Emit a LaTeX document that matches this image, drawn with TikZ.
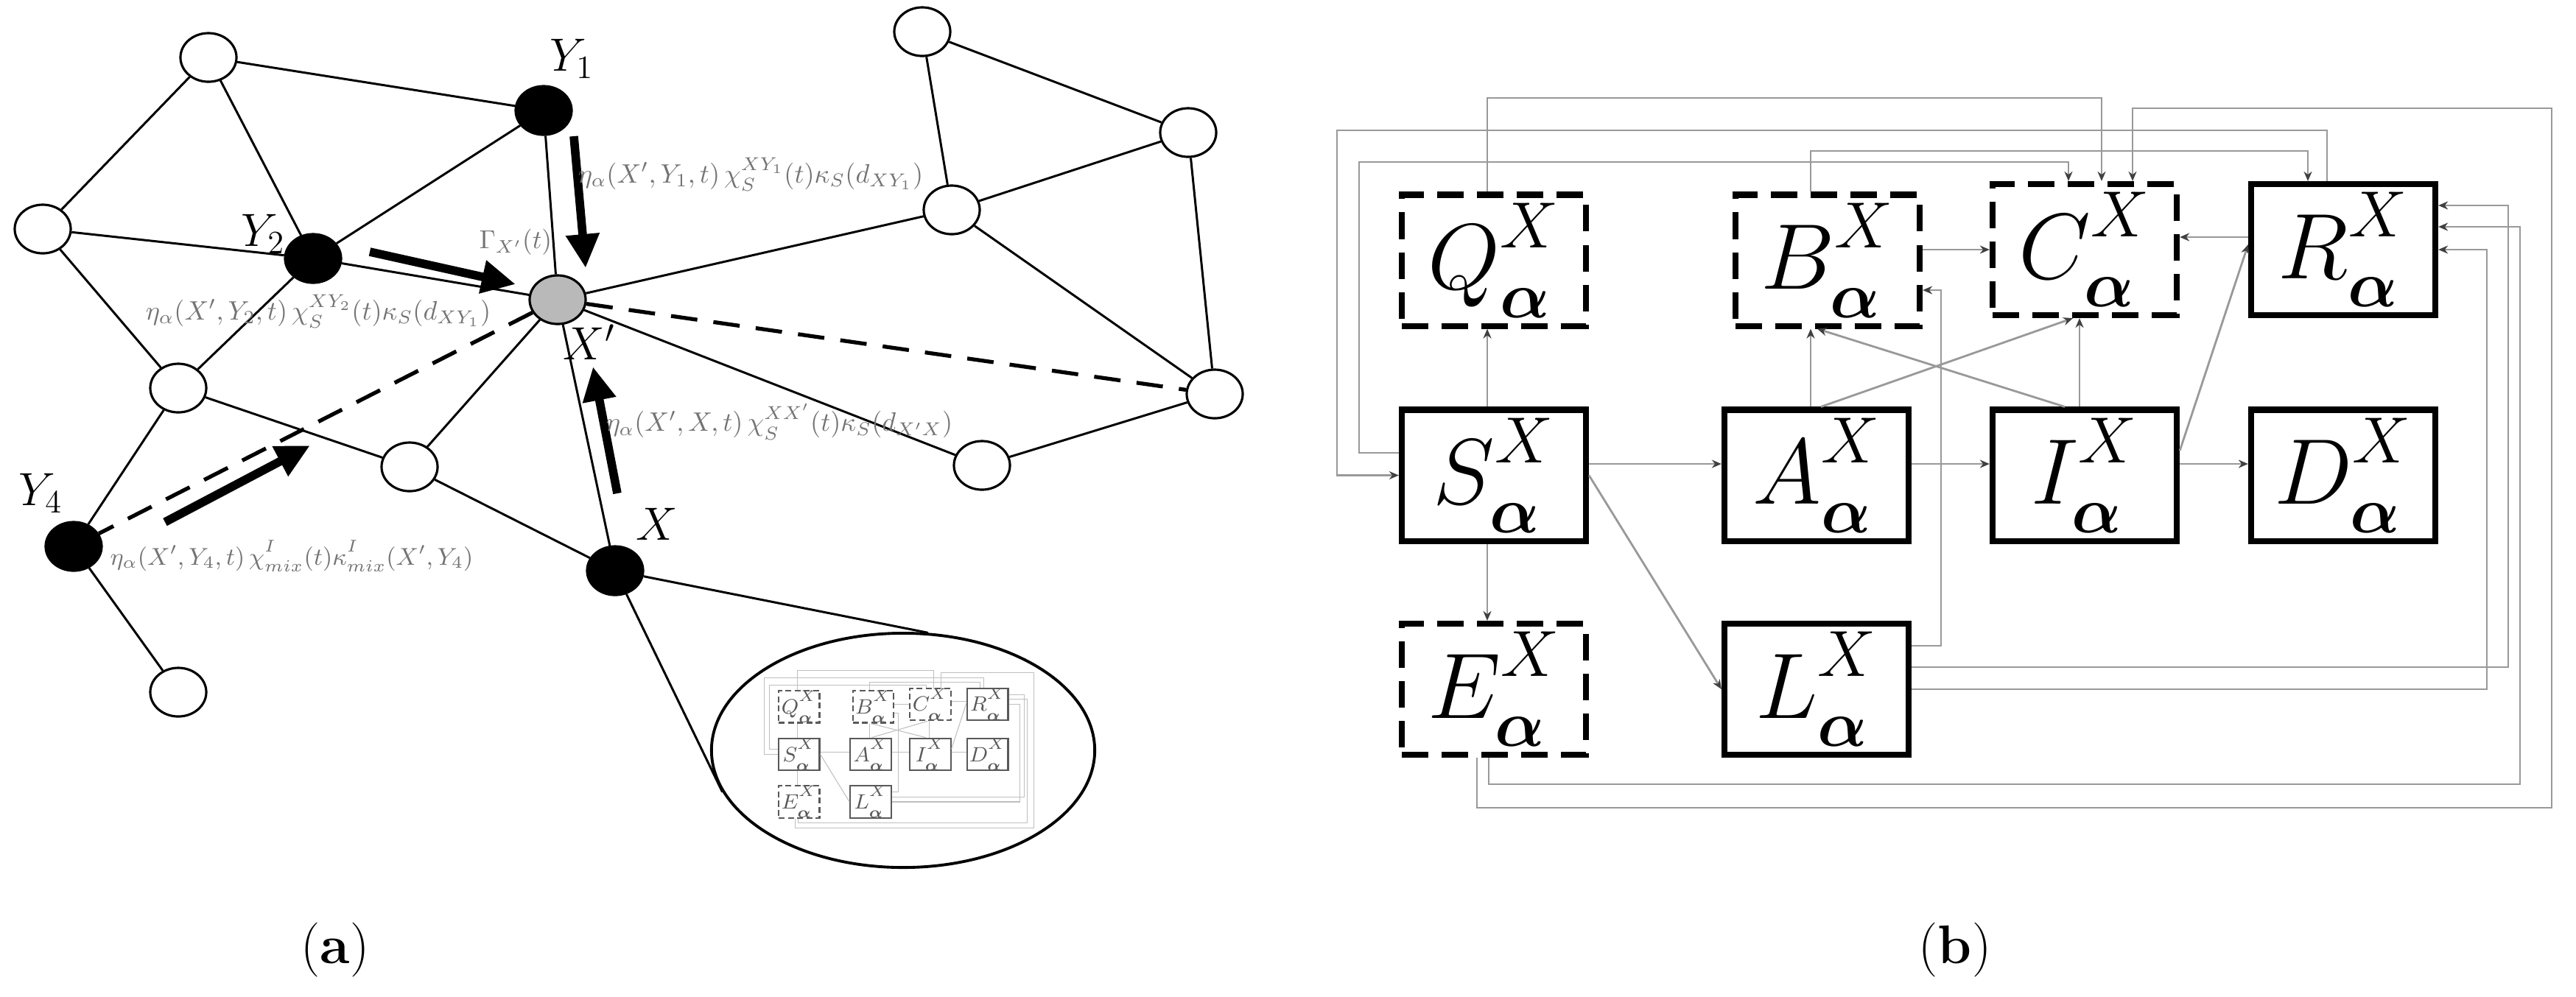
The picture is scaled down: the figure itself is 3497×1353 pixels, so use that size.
\RequirePackage{fix-cm}
\documentclass[tikz,border=0pt]{standalone}
\usepackage{amsmath,bm}
\usetikzlibrary{shapes.geometric,arrows.meta}

\tikzset{
 vtx/.style={ellipse, draw, line width=0.9pt, minimum width=7.6mm, minimum height=6.6mm, inner sep=0pt, fill=white},
 vblack/.style={vtx, fill=black},
 vgrey/.style={vtx, fill=gray!55},
 nedge/.style={line width=0.85pt},
 dedge/.style={line width=1.5pt, dash pattern=on 3.6mm off 2.2mm},
 bigarrow/.style={line width=3.3pt, -{Triangle[length=4.6mm,width=4.3mm]}},
 rate/.style={text=black!55, font=\fontsize{10.3}{12}\selectfont, inner sep=0pt},
 vlab/.style={font=\fontsize{18}{21}\selectfont, inner sep=0pt},
 sublab/.style={font=\fontsize{21}{24}\selectfont, inner sep=0pt},
 zoomell/.style={ellipse, draw, line width=1.1pt, minimum width=52mm, minimum height=31.8mm, inner sep=0pt, fill=white},
 osolid/.style={draw, line width=2.3pt, minimum width=25mm, minimum height=17.8mm, inner sep=0pt, font=\fontsize{36}{40}\selectfont},
 odash/.style={osolid, dash pattern=on 3.6mm off 1.8mm},
 oconn/.style={draw=black!40, line width=0.8pt, -{Stealth[length=1.3mm,width=1.1mm,color=black!75]}},
 isolid/.style={draw=black!65, line width=0.6pt, minimum width=5.55mm, minimum height=3.95mm, inner sep=0pt, font=\fontsize{8}{9}\selectfont, text=black!65},
 idash/.style={isolid, dash pattern=on 0.8mm off 0.45mm},
 iconn/.style={draw=black!25, line width=0.3pt},
}

\newcommand\boxlab[1]{$#1^{\raisebox{3pt}{$\scriptstyle X$}}_{\raisebox{-2pt}{$\scriptstyle\bm\alpha$}}$}
% superscript and subscript pushed a little apart
\newcommand\spsb[2]{^{\raisebox{1pt}{$\scriptstyle #1$}}_{\raisebox{-0.8pt}{$\scriptstyle #2$}}}

% #1 name prefix, #2 solid box style, #3 dashed box style, #4 connector style
\newcommand\flowdiag[4]{%
 \node[#3] (#1Q) at (2028,353.5) {\boxlab{Q}};
 \node[#3] (#1B) at (2481,353.5) {\boxlab{B}};
 \node[#3] (#1C) at (2830,339) {\boxlab{C}};
 \node[#2] (#1R) at (3181,339) {\boxlab{R}};
 \node[#2] (#1S) at (2028,645.5) {\boxlab{S}};
 \node[#2] (#1A) at (2466,645.5) {\boxlab{A}};
 \node[#2] (#1I) at (2830,645.5) {\boxlab{I}};
 \node[#2] (#1D) at (3181,645.5) {\boxlab{D}};
 \node[#3] (#1E) at (2028,936) {\boxlab{E}};
 \node[#2] (#1L) at (2466,936) {\boxlab{L}};
 \coordinate (#1h1) at (0,630);
 \coordinate (#1h2) at (0,612);
 \coordinate (#1h3) at (0,332);
 \coordinate (#1h4) at (0,339);
 \coordinate (#1h5) at (0,322);
 \coordinate (#1h6) at (0,394);
 \coordinate (#1v1) at (2019,0);
 \coordinate (#1v2) at (2458,0);
 \coordinate (#1v3) at (2472,0);
 \coordinate (#1v4) at (2814,0);
 \coordinate (#1v5) at (2803,0);
 \coordinate (#1v6) at (2467,0);
 \coordinate (#1v7) at (2823,0);
 \coordinate (#1v8) at (2853,0);
 \coordinate (#1k1) at (2635,877);
 \coordinate (#1k2) at (2019,133);
 \coordinate (#1k3) at (3159,177);
 \coordinate (#1k4) at (1815,645.5);
 \coordinate (#1k5) at (1845,615);
 \coordinate (#1k6) at (2808,220);
 \coordinate (#1k7) at (2458,205);
 \coordinate (#1k8) at (3133,205);
 \coordinate (#1k9) at (2005,1097);
 \coordinate (#1k10) at (3464,147);
 \coordinate (#1k11) at (2895,147);
 \coordinate (#1k12) at (2021,1065);
 \coordinate (#1k13) at (3421,308);
 \coordinate (#1k14) at (3405,906);
 \coordinate (#1k15) at (3405,279);
 \coordinate (#1k16) at (3376,936);
 \coordinate (#1k17) at (3376,339);
 \draw[#4] (#1S.east |- #1h1) -- (#1A.west |- #1h1);
 \draw[#4] (#1A.east |- #1h1) -- (#1I.west |- #1h1);
 \draw[#4] (#1I.east |- #1h1) -- (#1D.west |- #1h1);
 \draw[#4] (#1S.north -| #1v1) -- (#1Q.south -| #1v1);
 \draw[#4] (#1S.south -| #1v1) -- (#1E.north -| #1v1);
 \draw[#4] (#1S.east) -- (#1L.west);
 \draw[#4] (#1A.north -| #1v2) -- (#1B.south -| #1v2);
 \draw[#4] (#1A.north -| #1v3) -- (#1C.south -| #1v4);
 \draw[#4] (#1I.north -| #1v5) -- (#1B.south -| #1v6);
 \draw[#4] (#1I.north -| #1v7) -- (#1C.south -| #1v7);
 \draw[#4] (#1I.east |- #1h2) -- (#1R.west |- #1h3);
 \draw[#4] (#1B.east |- #1h4) -- (#1C.west |- #1h4);
 \draw[#4] (#1R.west |- #1h5) -- (#1C.east |- #1h5);
 \draw[#4] (#1L.east |- #1k1) -- (#1k1) |- (#1B.east |- #1h6);
 \draw[#4] (#1Q.north -| #1k2) -- (#1k2) -| (#1C.north -| #1v8);
 \draw[#4] (#1R.north -| #1k3) -- (#1k3) -| (#1k4) -- (#1S.west);
 \draw[#4] (#1S.west |- #1k5) -- (#1k5) |- (#1k6) -- (#1C.north -| #1k6);
 \draw[#4] (#1B.north -| #1k7) -- (#1k7) -- (#1k8) -- (#1R.north -| #1k8);
 \draw[#4] (#1E.south -| #1k9) -- (#1k9) -| (#1k10) -- (#1k11) -- (#1C.north -| #1k11);
 \draw[#4] (#1E.south -| #1k12) -- (#1k12) -| (#1k13) -- (#1R.east |- #1k13);
 \draw[#4] (#1L.east |- #1k14) -- (#1k14) -- (#1k15) -- (#1R.east |- #1k15);
 \draw[#4] (#1L.east) -- (#1k16) -- (#1k17) -- (#1R.east);
}

\begin{document}
\begin{tikzpicture}[x=0.01cm, y=-0.01cm]
\fill[white] (0,0) rectangle (3497,1353);
\useasboundingbox (0,0) rectangle (3497,1353);

% ---------- panel (a): network ----------
\node[vtx] (A) at (283,78) {};
\node[vblack] (Y1) at (738,150) {};
\node[vtx] (TR) at (1252,43) {};
\node[vtx] (R2) at (1613,180) {};
\node[vtx] (R1) at (1292,285) {};
\node[vtx] (Ln) at (58,311) {};
\node[vblack] (Y2) at (425,351) {};
\node[vgrey] (Xp) at (757,407) {};
\node[vtx] (L2) at (242,527) {};
\node[vtx] (M) at (556,634) {};
\node[vtx] (R3) at (1649,535) {};
\node[vtx] (R4) at (1333,632) {};
\node[vblack] (Y4) at (100,742) {};
\node[vblack] (X) at (835,775) {};
\node[vtx] (Bn) at (242,940) {};

\foreach \a/\b in {A/Y1, A/Ln, A/Y2, Ln/Y2, Ln/L2, Y2/Y1, Y2/Xp, Y2/L2, Y1/Xp,
  Xp/R1, Xp/M, Xp/X, Xp/R4, L2/M, M/X, L2/Y4, Y4/Bn, TR/R1, TR/R2, R1/R2,
  R1/R3, R2/R3, R3/R4}
  \draw[nedge] (\a) -- (\b);
\draw[dedge] (Xp) -- (Y4);
\draw[dedge] (Xp) -- (R3);

% zoom ellipse
\node[zoomell] (ell) at (1226,1019) {};
\draw[nedge] (X) -- (ell.78);
\draw[nedge] (X) -- (ell.193);

\begin{scope}[shift={(1057,940)}, scale=0.222, shift={(-1903,-265)}]
 \renewcommand\boxlab[1]{$#1^{\raisebox{2pt}{$\scriptstyle X$}}_{\raisebox{-1.5pt}{$\scriptstyle\bm\alpha$}}$}
 \flowdiag{i}{isolid}{idash}{iconn}
\end{scope}

% thick arrows
\coordinate (a1s) at (779,185); \coordinate (a1e) at (795,364);
\coordinate (a2s) at (502,342); \coordinate (a2e) at (700,386);
\coordinate (a3s) at (838,670); \coordinate (a3e) at (805,498);
\coordinate (a4s) at (224,709); \coordinate (a4e) at (421,605);
\draw[bigarrow] (a1s) -- (a1e);
\draw[bigarrow] (a2s) -- (a2e);
\draw[bigarrow] (a3s) -- (a3e);
\draw[bigarrow] (a4s) -- (a4e);

% labels
\node[vlab] (lY1) at (776,80) {$Y_1$};
\node[vlab] (lY2) at (357,318) {$Y_2$};
\node[vlab] (lXp) at (800,465) {$X'$};
\node[vlab] (lX) at (892,712) {$X$};
\node[vlab] (lY4) at (55,670) {$Y_4$};
\node[rate, font=\fontsize{10}{12}\selectfont] (gam) at (700,329) {$\Gamma_{X'}(t)$};
\node[rate] (r1) at (1019,237) {$\eta_{\alpha}(X',Y_1,t)\,\chi\spsb{XY_1}{S}(t)\kappa_S(d_{XY_1})$};
\node[rate] (r2) at (432,423) {$\eta_{\alpha}(X',Y_2,t)\,\chi\spsb{XY_2}{S}(t)\kappa_S(d_{XY_1})$};
\node[rate] (r3) at (1058,573) {$\eta_{\alpha}(X',X,t)\,\chi\spsb{XX'}{S}(t)\kappa_S(d_{X'X})$};
\node[rate, font=\fontsize{9.4}{11}\selectfont] (r4) at (396,755) {$\eta_{\alpha}(X',Y_4,t)\,\chi\spsb{I}{mix}(t)\kappa\spsb{I}{mix}(X',Y_4)$};

% ---------- panel (b) ----------
\flowdiag{o}{osolid}{odash}{oconn}

\node[sublab] (la) at (455,1290) {(\textbf{a})};
\node[sublab] (lb) at (2654,1290) {(\textbf{b})};
\end{tikzpicture}
\end{document}
